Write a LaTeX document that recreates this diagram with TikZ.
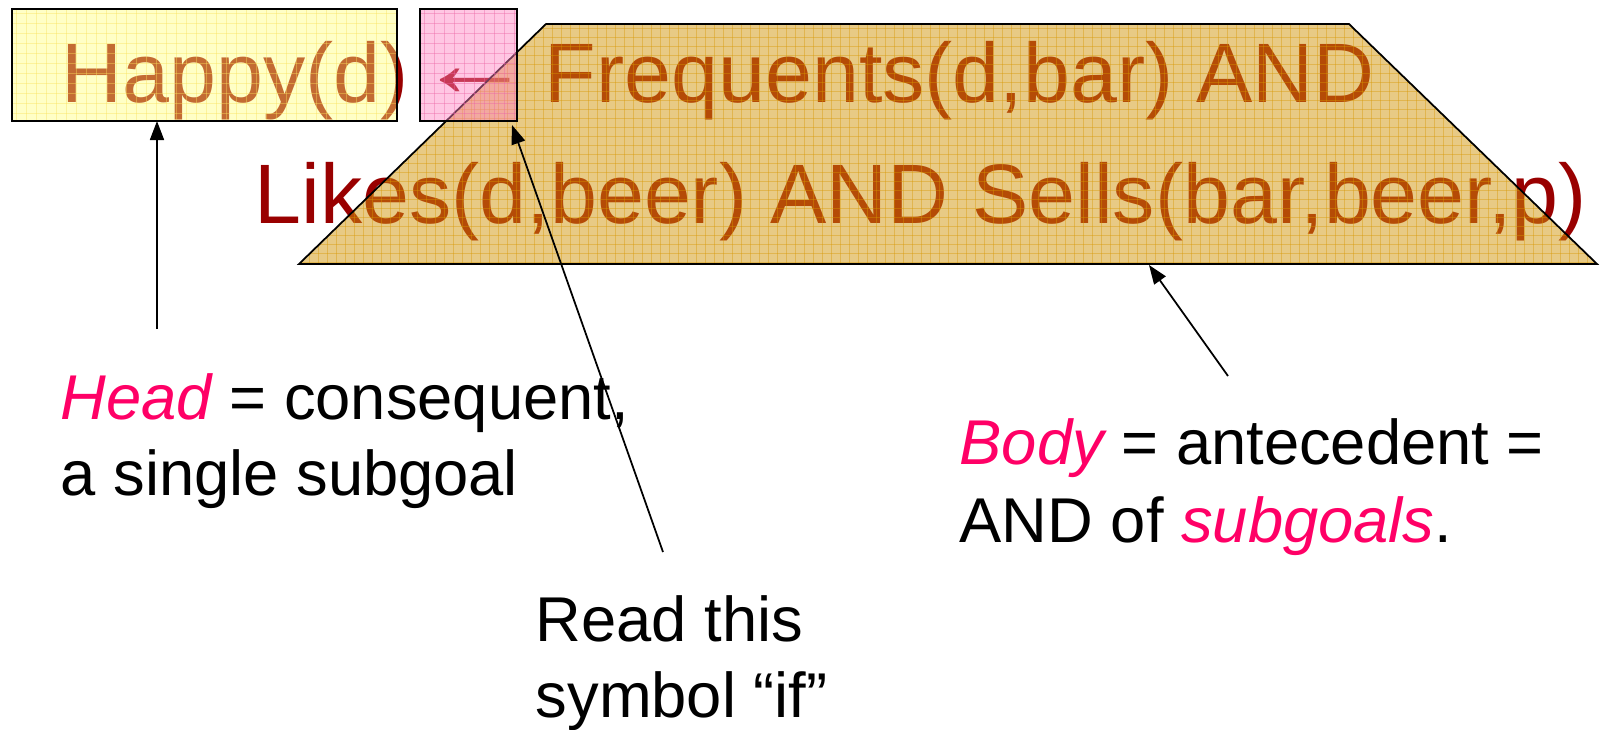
\documentclass[tikz,border=0pt]{standalone}
\usepackage{fontspec}
\setmainfont{Liberation Sans}
\usetikzlibrary{arrows.meta}

\definecolor{rulered}{RGB}{153,0,0}
\definecolor{hotpink}{RGB}{255,0,102}
\definecolor{tanfill}{RGB}{210,150,12}
\definecolor{tangrid}{RGB}{215,150,0}
\definecolor{yelfill}{RGB}{255,255,120}
\definecolor{yelgrid}{RGB}{250,225,90}
\definecolor{pinkfill}{RGB}{255,128,192}
\definecolor{pinkgrid}{RGB}{235,100,165}

\newcommand{\pinkit}[1]{\textcolor{hotpink}{\itshape #1}}

\begin{document}
\begin{tikzpicture}[x=0.01cm, y=-0.01cm, >={Triangle[length=0.19cm, width=0.14cm]},
    rule/.style={anchor=base west, inner sep=0pt, text=rulered, font=\fontsize{24}{35}\selectfont},
    lbl/.style={anchor=base west, inner sep=0pt, font=\fontsize{18}{22}\selectfont},
    patch/.style={draw=black, line width=0.5pt},
    gridline/.style={line width=0.25pt, draw opacity=0.4}]
    \useasboundingbox (0,0) rectangle (1611,730);

    % the rule
    \node[rule] (happy) at (61,102) {Happy(d)};
    \node[rule] (ifsym) at (416,96) {\scalebox{1.39}[1.15]{←}};
    \node[rule] (freq) at (544,102) {Frequents(d,bar) AND};
    \node[rule] (likes) at (254,223) {Likes(d,beer) AND Sells(bar,beer,p)};

    % body trapezoid
    \begin{scope}
        \clip (299,264) -- (546,24) -- (1349,24) -- (1597,264) -- cycle;
        \fill[tanfill, fill opacity=0.5] (299,24) rectangle (1597,264);
        \foreach \gx in {300,309,...,1597}
            \draw[gridline, tangrid] (\gx,24) -- (\gx,264);
        \foreach \gy in {28,37,...,264}
            \draw[gridline, tangrid] (299,\gy) -- (1597,\gy);
    \end{scope}
    \draw[patch] (299,264) -- (546,24) -- (1349,24) -- (1597,264) -- cycle;

    % head box
    \begin{scope}
        \clip (12,9) rectangle (397,121);
        \fill[yelfill, fill opacity=0.42] (12,9) rectangle (397,121);
        \foreach \gx in {16,26,...,397}
            \draw[gridline, yelgrid] (\gx,9) -- (\gx,121);
        \foreach \gy in {13,23,...,121}
            \draw[gridline, yelgrid] (12,\gy) -- (397,\gy);
    \end{scope}
    \draw[patch] (12,9) rectangle (397,121);

    % if box
    \begin{scope}
        \clip (420,9) rectangle (517,121);
        \fill[pinkfill, fill opacity=0.45] (420,9) rectangle (517,121);
        \foreach \gx in {424,434,...,517}
            \draw[gridline, pinkgrid] (\gx,9) -- (\gx,121);
        \foreach \gy in {13,23,...,121}
            \draw[gridline, pinkgrid] (420,\gy) -- (517,\gy);
    \end{scope}
    \draw[patch] (420,9) rectangle (517,121);

    % labels
    \node[lbl] (head) at (60,419) {\pinkit{Head} = consequent,};
    \node[lbl] (head2) at (60,495) {a single subgoal};
    \node[lbl] (body) at (959,464) {\pinkit{Body} = antecedent =};
    \node[lbl] (body2) at (959,542) {AND of \pinkit{subgoals}.};
    \node[lbl] (read) at (535,641) {Read this};
    \node[lbl] (read2) at (535,717) {symbol “if”};

    % pointers
    \coordinate (headfoot) at (157,329);
    \coordinate (headtip) at (157,121);
    \coordinate (readfoot) at (663,552);
    \coordinate (readtip) at (512,125);
    \coordinate (bodyfoot) at (1228,376);
    \coordinate (bodytip) at (1149,265);
    \draw[->, line width=0.5pt] (headfoot) -- (headtip);
    \draw[->, line width=0.5pt] (readfoot) -- (readtip);
    \draw[->, line width=0.5pt] (bodyfoot) -- (bodytip);
\end{tikzpicture}
\end{document}
